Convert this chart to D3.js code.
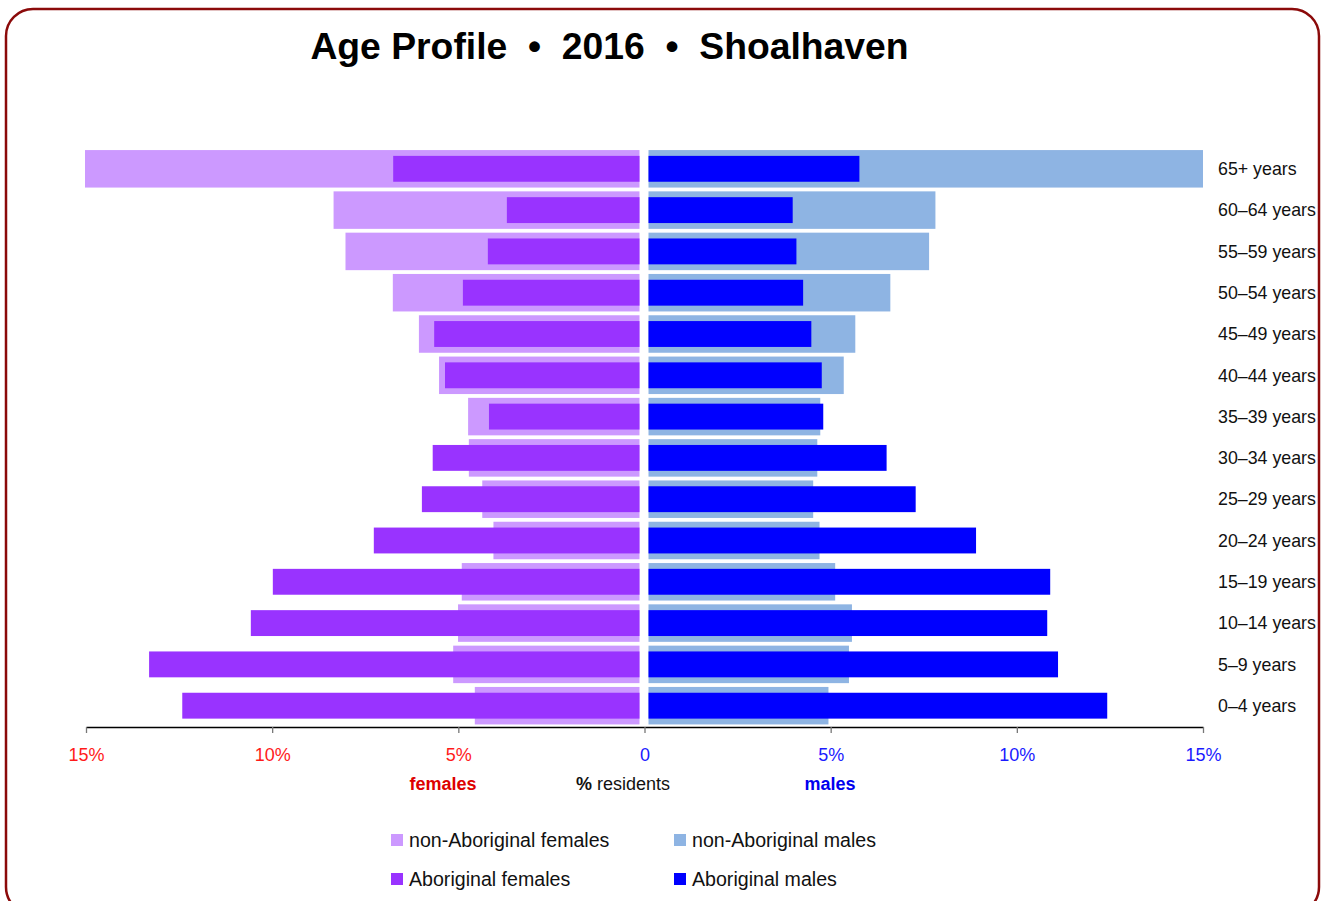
<!DOCTYPE html>
<html>
<head>
<meta charset="utf-8">
<script src="https://cdn.jsdelivr.net/npm/d3@7"></script>
<style>
  body { margin: 0; background: #fff; }
  svg { display: block; }
  text { font-family: "Liberation Sans", Arial, Helvetica, sans-serif; }
</style>
</head>
<body>
<svg id="chart"></svg>
<script>
// age groups, top of the pyramid first
let ageGroups = ['65+ years', '60–64 years', '55–59 years', '50–54 years', '45–49 years', '40–44 years', '35–39 years',
  '30–34 years', '25–29 years', '20–24 years', '15–19 years', '10–14 years', '5–9 years', '0–4 years']

// % of residents (65+ non-Aboriginal runs off the 15% axis, so it is clamped)
let nonAboFemales = [27.0, 8.33, 8.01, 6.74, 6.04, 5.50, 4.72, 4.70, 4.34, 4.04, 4.89, 4.99, 5.12, 4.54]
let aboFemales = [6.73, 3.68, 4.19, 4.86, 5.63, 5.34, 4.16, 5.67, 5.96, 7.25, 9.96, 10.55, 13.28, 12.39]
let nonAboMales = [25.0, 7.82, 7.65, 6.61, 5.67, 5.36, 4.73, 4.65, 4.54, 4.71, 5.13, 5.58, 5.50, 4.95]
let aboMales = [5.78, 3.99, 4.09, 4.27, 4.49, 4.77, 4.81, 6.51, 7.29, 8.91, 10.90, 10.82, 11.11, 12.43]

let tickValues = [-15, -10, -5, 0, 5, 10, 15]
let legendItems = [
  { label: 'non-Aboriginal females', color: '#cc99ff', col: 0, row: 0 },
  { label: 'non-Aboriginal males', color: '#8eb4e3', col: 1, row: 0 },
  { label: 'Aboriginal females', color: '#9933ff', col: 0, row: 1 },
  { label: 'Aboriginal males', color: '#0000ff', col: 1, row: 1 }
]

let svgWidth = 1326, svgHeight = 901
let center = 644, gap = 4.5, axisY = 727

let svg = d3.select('#chart').attr('width', svgWidth).attr('height', svgHeight)

// frame
svg.append('rect')
  .attr('x', 6).attr('y', 9).attr('width', 1313).attr('height', 905).attr('rx', 27)
  .attr('fill', 'none').attr('stroke', '#8b0a0a').attr('stroke-width', 2.5)

svg.append('text')
  .attr('x', 609.5).attr('y', 59)
  .attr('text-anchor', 'middle')
  .style('font-size', '37.3px').style('font-weight', 'bold').style('white-space', 'pre')
  .text('Age Profile  •  2016  •  Shoalhaven')

let xAxisScale = d3.scaleLinear().domain([-15, 15]).range([86, 1203])
let xF = d3.scaleLinear().domain([0, 15]).range([center, 85]).clamp(true)
let xM = d3.scaleLinear().domain([0, 15]).range([center, 1203]).clamp(true)

let y = d3.scaleBand().domain(ageGroups).range([148, 726.5]).paddingInner(0.092).paddingOuter(0.05)
let innerH = y.bandwidth() * 0.69
let innerOff = (y.bandwidth() - innerH) / 2

let rows = ageGroups.map((a, i) => ({
  age: a, nf: nonAboFemales[i], af: aboFemales[i], nm: nonAboMales[i], am: aboMales[i]
}))

let g = svg.append('g')

function femaleBars(key, color, off, h) {
  g.selectAll('.' + key).data(rows).enter().append('rect')
    .attr('class', key)
    .attr('x', d => xF(d[key]))
    .attr('y', d => y(d.age) + off)
    .attr('width', d => (center - gap) - xF(d[key]))
    .attr('height', h)
    .attr('fill', color)
}
function maleBars(key, color, off, h) {
  g.selectAll('.' + key).data(rows).enter().append('rect')
    .attr('class', key)
    .attr('x', center + gap)
    .attr('y', d => y(d.age) + off)
    .attr('width', d => xM(d[key]) - (center + gap))
    .attr('height', h)
    .attr('fill', color)
}

femaleBars('nf', '#cc99ff', 0, y.bandwidth())
maleBars('nm', '#8eb4e3', 0, y.bandwidth())
femaleBars('af', '#9933ff', innerOff, innerH)
maleBars('am', '#0000ff', innerOff, innerH)

// age labels
svg.append('g').selectAll('text').data(ageGroups).enter().append('text')
  .attr('x', 1218)
  .attr('y', d => y(d) + y.bandwidth() / 2)
  .attr('dy', '0.35em')
  .style('font-size', '17.8px').attr('fill', '#111')
  .text(d => d)

// axis
let axis = d3.axisBottom(xAxisScale)
  .tickValues(tickValues)
  .tickFormat(d => d == 0 ? '0' : Math.abs(d) + '%')
  .tickSize(6).tickSizeOuter(0).tickPadding(15)

let ax = svg.append('g').attr('transform', `translate(0,${axisY})`).call(axis)
ax.select('.domain').attr('stroke', '#000').attr('stroke-width', 1.3)
ax.selectAll('.tick line').attr('stroke', '#777').attr('stroke-width', 1.3)
ax.selectAll('.tick text')
  .style('font-size', '18px')
  .style('font-family', '"Liberation Sans", Arial, sans-serif')
  .attr('fill', d => d < 0 ? '#ff1a1a' : '#1a1aff')

svg.append('text').attr('x', 443).attr('y', 790).attr('text-anchor', 'middle')
  .style('font-size', '18px').style('font-weight', 'bold').attr('fill', '#dd0000')
  .text('females')
svg.append('text').attr('x', 830).attr('y', 790).attr('text-anchor', 'middle')
  .style('font-size', '18px').style('font-weight', 'bold').attr('fill', '#0000ee')
  .text('males')
let res = svg.append('text').attr('x', 623).attr('y', 790).attr('text-anchor', 'middle')
  .style('font-size', '18px').attr('fill', '#111')
res.append('tspan').style('font-weight', 'bold').text('%')
res.append('tspan').text(' residents')

// legend
let legend = svg.append('g').selectAll('g').data(legendItems).enter().append('g')
  .attr('transform', d => `translate(${391 + d.col * 283},${840 + d.row * 39})`)
legend.append('rect').attr('x', 0).attr('y', -6).attr('width', 12).attr('height', 12)
  .attr('fill', d => d.color)
legend.append('text').attr('x', 18).attr('dy', '0.35em')
  .style('font-size', '19.6px').attr('fill', '#111')
  .text(d => d.label)
</script>
</body>
</html>
